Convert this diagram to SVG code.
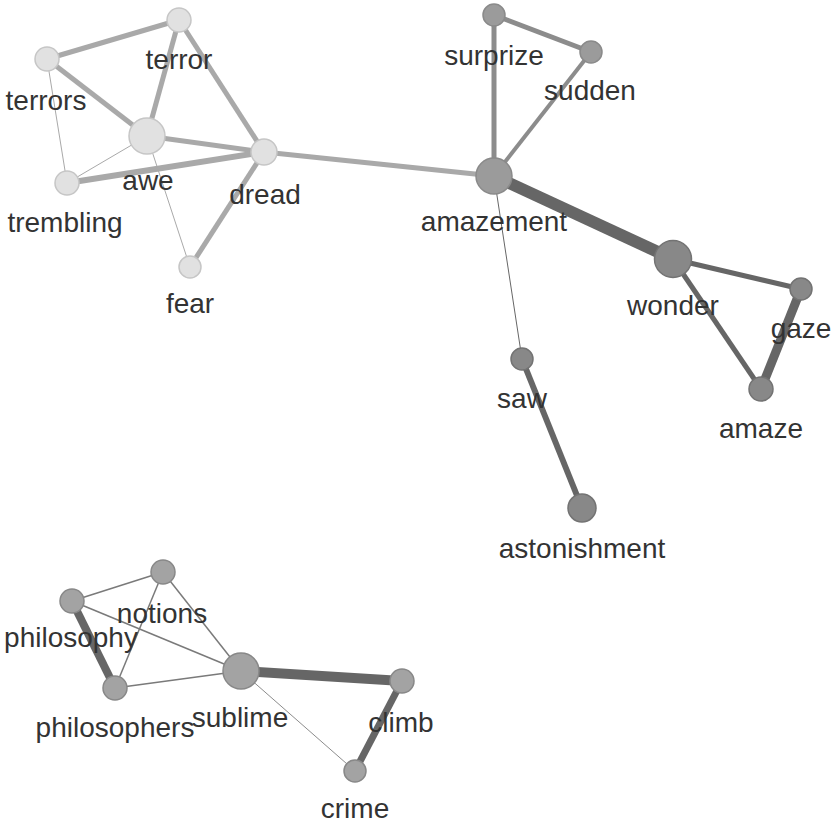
<svg xmlns="http://www.w3.org/2000/svg" width="833" height="825" viewBox="0 0 833 825">
<style>
  .bg{fill:#ffffff}
  .e{fill:none;stroke-linecap:butt}
  .lt{stroke:#a9a9a9}
  .md{stroke:#8c8c8c}
  .dk{stroke:#666666}
  .bt{stroke:#7a7a7a}
  .nl{fill:#e1e1e1;stroke:#c6c6c6;stroke-width:1.5}
  .nm{fill:#9b9b9b;stroke:#8a8a8a;stroke-width:1.5}
  .nd{fill:#888888;stroke:#737373;stroke-width:1.5}
  .nb{fill:#a3a3a3;stroke:#888888;stroke-width:1.5}
  text{font-family:"Liberation Sans",Arial,sans-serif;font-size:28px;fill:#333333;text-anchor:middle}
</style>
<rect class="bg" x="0" y="0" width="833" height="825"/>
<g id="connectors">
  <line class="e lt" x1="179" y1="20" x2="47" y2="59" stroke-width="5"/>
  <line class="e lt" x1="179" y1="20" x2="147" y2="136" stroke-width="5"/>
  <line class="e lt" x1="179" y1="20" x2="264" y2="152" stroke-width="5"/>
  <line class="e lt" x1="47" y1="59" x2="147" y2="136" stroke-width="5"/>
  <line class="e lt" x1="47" y1="59" x2="67" y2="183" stroke-width="1"/>
  <line class="e lt" x1="147" y1="136" x2="67" y2="183" stroke-width="1"/>
  <line class="e lt" x1="147" y1="136" x2="264" y2="152" stroke-width="5"/>
  <line class="e lt" x1="67" y1="183" x2="264" y2="152" stroke-width="6"/>
  <line class="e lt" x1="147" y1="136" x2="190" y2="267" stroke-width="1"/>
  <line class="e lt" x1="264" y1="152" x2="190" y2="267" stroke-width="5"/>
  <line class="e lt" x1="264" y1="152" x2="494" y2="176" stroke-width="5"/>
  <line class="e md" x1="494" y1="176" x2="494" y2="15" stroke-width="5"/>
  <line class="e md" x1="494" y1="15" x2="591" y2="52" stroke-width="5"/>
  <line class="e md" x1="591" y1="52" x2="494" y2="176" stroke-width="4"/>
  <line class="e dk" x1="494" y1="176" x2="673" y2="259" stroke-width="12"/>
  <line class="e dk" x1="494" y1="176" x2="522" y2="359" stroke-width="1"/>
  <line class="e dk" x1="673" y1="259" x2="801" y2="289" stroke-width="5"/>
  <line class="e dk" x1="673" y1="259" x2="761" y2="389" stroke-width="5"/>
  <line class="e dk" x1="801" y1="289" x2="761" y2="389" stroke-width="9"/>
  <line class="e dk" x1="522" y1="359" x2="582" y2="508" stroke-width="6"/>
  <line class="e bt" x1="72" y1="601" x2="163" y2="572" stroke-width="1.5"/>
  <line class="e dk" x1="72" y1="601" x2="115" y2="688" stroke-width="8"/>
  <line class="e bt" x1="72" y1="601" x2="241" y2="671" stroke-width="1.5"/>
  <line class="e bt" x1="163" y1="572" x2="115" y2="688" stroke-width="1.5"/>
  <line class="e bt" x1="163" y1="572" x2="241" y2="671" stroke-width="1.5"/>
  <line class="e bt" x1="115" y1="688" x2="241" y2="671" stroke-width="1.5"/>
  <line class="e dk" x1="241" y1="671" x2="402" y2="681" stroke-width="10"/>
  <line class="e md" x1="241" y1="671" x2="355" y2="771" stroke-width="1"/>
  <line class="e dk" x1="402" y1="681" x2="355" y2="771" stroke-width="7"/>
</g>
<g id="node-terror"><circle class="nl" cx="179" cy="20" r="12"/></g>
<g id="node-terrors"><circle class="nl" cx="47" cy="59" r="12"/></g>
<g id="node-awe"><circle class="nl" cx="147" cy="136" r="18"/></g>
<g id="node-trembling"><circle class="nl" cx="67" cy="183" r="12"/></g>
<g id="node-dread"><circle class="nl" cx="264" cy="152" r="13"/></g>
<g id="node-fear"><circle class="nl" cx="190" cy="267" r="11"/></g>
<g id="node-surprize"><circle class="nm" cx="494" cy="15" r="11"/></g>
<g id="node-sudden"><circle class="nm" cx="591" cy="52" r="11"/></g>
<g id="node-amazement"><circle class="nm" cx="494" cy="176" r="18"/></g>
<g id="node-wonder"><circle class="nd" cx="673" cy="259" r="18.5"/></g>
<g id="node-gaze"><circle class="nd" cx="801" cy="289" r="11"/></g>
<g id="node-amaze"><circle class="nd" cx="761" cy="389" r="12"/></g>
<g id="node-saw"><circle class="nd" cx="522" cy="359" r="11"/></g>
<g id="node-astonishment"><circle class="nd" cx="582" cy="508" r="14"/></g>
<g id="node-notions"><circle class="nb" cx="163" cy="572" r="12"/></g>
<g id="node-philosophy"><circle class="nb" cx="72" cy="601" r="12"/></g>
<g id="node-philosophers"><circle class="nb" cx="115" cy="688" r="12"/></g>
<g id="node-sublime"><circle class="nb" cx="241" cy="671" r="18"/></g>
<g id="node-climb"><circle class="nb" cx="402" cy="681" r="12"/></g>
<g id="node-crime"><circle class="nb" cx="355" cy="771" r="11"/></g>
<g id="labels">
  <text x="179" y="69">terror</text>
  <text x="46" y="110">terrors</text>
  <text x="148" y="190">awe</text>
  <text x="65" y="232">trembling</text>
  <text x="265" y="204">dread</text>
  <text x="190" y="313">fear</text>
  <text x="494" y="65">surprize</text>
  <text x="590" y="100">sudden</text>
  <text x="494" y="231">amazement</text>
  <text x="673" y="315">wonder</text>
  <text x="801" y="338">gaze</text>
  <text x="761" y="438">amaze</text>
  <text x="522" y="408">saw</text>
  <text x="582" y="558">astonishment</text>
  <text x="162" y="623">notions</text>
  <text x="71" y="647">philosophy</text>
  <text x="115" y="737">philosophers</text>
  <text x="240" y="727">sublime</text>
  <text x="401" y="732">climb</text>
  <text x="355" y="818">crime</text>
</g>
</svg>
